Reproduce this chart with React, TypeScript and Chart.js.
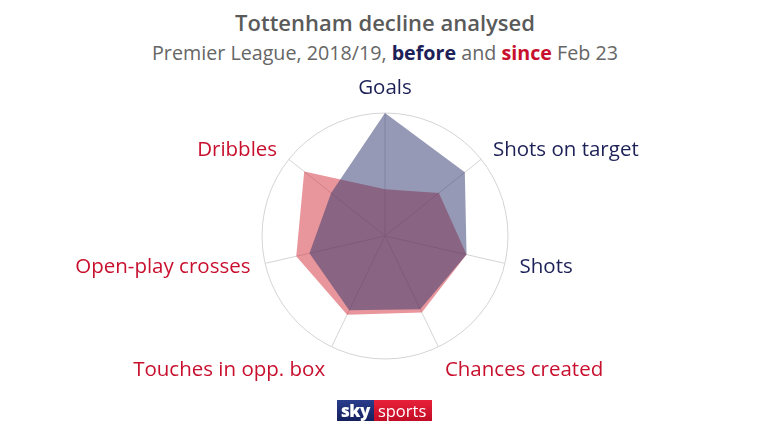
import React, { useEffect, useRef } from "react";
import { Chart, registerables } from "chart.js";

Chart.register(...registerables);

const categories = [
  "Goals",
  "Shots on target",
  "Shots",
  "Chances created",
  "Touches in opp. box",
  "Open-play crosses",
  "Dribbles",
];
const beforeValues = [1.0, 0.83, 0.68, 0.66, 0.67, 0.63, 0.56];
const sinceValues = [0.38, 0.56, 0.68, 0.69, 0.71, 0.74, 0.84];
const labelColors = ["#1d2157", "#1d2157", "#1d2157", "#c8102e", "#c8102e", "#c8102e", "#c8102e"];

const FONT = "'Open Sans', 'Noto Sans', sans-serif";

const labelPlugin = {
  id: "outerLabels",
  afterDraw(chart: any) {
    const scale = chart.scales.r;
    const ctx = chart.ctx;
    ctx.save();
    ctx.font = `20.5px ${FONT}`;
    const n = categories.length;
    for (let i = 0; i < n; i++) {
      const dist = scale.drawingArea + 15;
      const p = scale.getPointPosition(i, dist);
      const dx = (p.x - scale.xCenter) / dist;
      const dy = (p.y - scale.yCenter) / dist;
      ctx.fillStyle = labelColors[i];
      ctx.textAlign = Math.abs(dx) < 0.05 ? "center" : dx > 0 ? "left" : "right";
      ctx.textBaseline = dy < -0.9 ? "bottom" : dy > 0.8 ? "top" : "middle";
      ctx.fillText(categories[i], p.x, p.y);
    }
    ctx.restore();
  },
};

export default function App() {
  const ref = useRef<HTMLCanvasElement | null>(null);

  useEffect(() => {
    if (!ref.current) return;
    const chart = new Chart(ref.current, {
      type: "radar",
      data: {
        labels: categories,
        datasets: [
          {
            label: "before",
            data: beforeValues,
            backgroundColor: "rgba(43,51,107,0.5)",
            borderWidth: 0,
            pointRadius: 0,
            fill: true,
          },
          {
            label: "since",
            data: sinceValues,
            backgroundColor: "rgba(209,43,55,0.5)",
            borderWidth: 0,
            pointRadius: 0,
            fill: true,
          },
        ],
      },
      options: {
        animation: false,
        responsive: false,
        maintainAspectRatio: false,
        layout: { padding: { top: 53, bottom: 41, left: 2, right: 0 } },
        plugins: {
          legend: { display: false },
          tooltip: { enabled: false },
          title: { display: false },
        },
        elements: { line: { tension: 0 } },
        scales: {
          r: {
            min: 0,
            max: 1,
            ticks: { display: false, stepSize: 1 },
            grid: { circular: true, color: "#d4d4d4", lineWidth: 1 },
            angleLines: { color: "#d4d4d4", lineWidth: 1 },
            pointLabels: { display: false },
          },
        },
      },
      plugins: [labelPlugin],
    });
    return () => chart.destroy();
  }, []);

  return (
    <div
      style={{
        position: "fixed",
        left: 0,
        top: 0,
        width: 768,
        height: 432,
        background: "#fff",
        fontFamily: FONT,
        overflow: "hidden",
      }}
    >
      <div
        style={{
          position: "absolute",
          top: 8,
          width: 768,
          textAlign: "center",
          fontSize: 22,
          fontWeight: 600,
          color: "#5a5a5a",
          lineHeight: "28px",
          left: 1,
        }}
      >
        Tottenham decline analysed
      </div>
      <div
        style={{
          position: "absolute",
          top: 40,
          width: 768,
          textAlign: "center",
          fontSize: 19.7,
          color: "#666",
          lineHeight: "26px",
          left: 1,
        }}
      >
        Premier League, 2018/19, <b style={{ color: "#1d2157", fontWeight: 700 }}>before</b> and{" "}
        <b style={{ color: "#c8102e", fontWeight: 700 }}>since</b> Feb 23
      </div>
      <canvas
        ref={ref}
        width={768}
        height={340}
        style={{ position: "absolute", left: 0, top: 60, width: 768, height: 340 }}
      />
      <div
        style={{
          position: "absolute",
          left: 337,
          top: 400,
          height: 21,
          display: "flex",
          fontFamily: FONT,
          color: "#fff",
          fontSize: 16,
          lineHeight: "21px",
        }}
      >
        <div
          style={{
            background: "linear-gradient(#2a3c8c, #14215e)",
            padding: "0 4px",
            fontWeight: 800,
            fontSize: 17,
            letterSpacing: -0.5,
          }}
        >
          sky
        </div>
        <div
          style={{
            background: "linear-gradient(#e8203a, #c20c25)",
            padding: "0 6px 0 4px",
            fontSize: 16.5,
          }}
        >
          sports
        </div>
      </div>
    </div>
  );
}
